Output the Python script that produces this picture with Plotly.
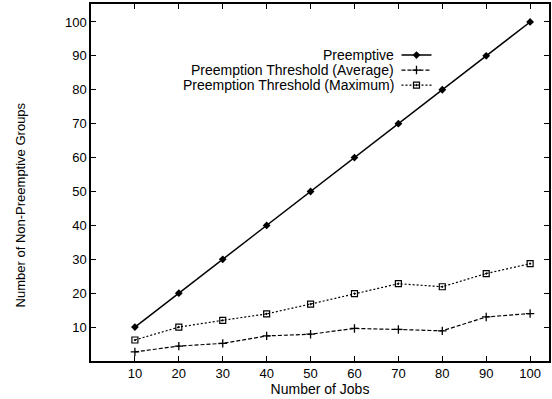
import plotly.graph_objects as go

jobs = [10, 20, 30, 40, 50, 60, 70, 80, 90, 100]
preemptive = [10, 20, 30, 40, 50, 60, 70, 80, 90, 100]
thr_avg = [2.7, 4.4, 5.2, 7.4, 7.9, 9.6, 9.3, 8.9, 13.0, 14.0]
thr_max = [6.2, 10.0, 12.0, 13.9, 16.8, 19.9, 22.8, 21.9, 25.8, 28.7]
series_names = ["Preemptive", "Preemption Threshold (Average)", "Preemption Threshold (Maximum)"]
x_ticks = [10, 20, 30, 40, 50, 60, 70, 80, 90, 100]
y_ticks = [10, 20, 30, 40, 50, 60, 70, 80, 90, 100]
x_title = "Number of Jobs"
y_title = "Number of Non-Preemptive Groups"

FONT = "Liberation Sans, Arial, sans-serif"

fig = go.Figure()
fig.add_trace(go.Scatter(x=jobs, y=preemptive, mode="lines+markers", name=" ", legend="legend",
                         line=dict(color="black", width=1.5),
                         marker=dict(symbol="diamond", size=6, color="black")))
fig.add_trace(go.Scatter(x=jobs, y=thr_avg, mode="lines+markers", name=" ", legend="legend2",
                         line=dict(color="black", width=1.2, dash="4px,2px"),
                         marker=dict(symbol="cross-thin", size=6, line=dict(color="black", width=1.3))))
fig.add_trace(go.Scatter(x=jobs, y=thr_max, mode="lines+markers", name=" ", legend="legend3",
                         line=dict(color="black", width=1.2, dash="2px,2px"),
                         marker=dict(symbol="square-open-dot", size=6, color="black",
                                     line=dict(color="black", width=1.2))))

# legend text, right aligned like the original (samples drawn by the legends to the right)
row_y = [0.857, 0.815, 0.773]
for name, yy in zip(series_names, row_y):
    fig.add_annotation(x=0.665, y=yy, xref="paper", yref="paper", text=name,
                       showarrow=False, xanchor="right", yanchor="middle",
                       font=dict(family=FONT, size=14, color="black"))

# y-axis title (placed slightly below plot centre, as in the original)
fig.add_annotation(x=-0.152, y=0.437, xref="paper", yref="paper", text=y_title,
                   textangle=-90, showarrow=False, xanchor="center", yanchor="middle",
                   font=dict(family=FONT, size=13, color="black"))

axis_common = dict(showline=True, linecolor="black", linewidth=1.5, mirror="ticks",
                   ticks="inside", ticklen=5, tickwidth=1.2, tickcolor="black",
                   showgrid=False, zeroline=False,
                   tickfont=dict(family=FONT, size=13, color="black"))

leg_common = dict(x=0.667, xanchor="left", yanchor="middle", bgcolor="rgba(0,0,0,0)",
                  font=dict(family=FONT, size=9), itemwidth=30)

fig.update_layout(
    width=552, height=399,
    margin=dict(l=91, r=1, t=4, b=38),
    plot_bgcolor="white", paper_bgcolor="white",
    xaxis=dict(range=[0, 104.3], tickvals=x_ticks,
               title=dict(text=x_title, standoff=0,
                          font=dict(family=FONT, size=14, color="black")),
               **axis_common),
    yaxis=dict(range=[0, 105.3], tickvals=y_ticks, **axis_common),
    showlegend=True,
    legend=dict(y=row_y[0], **leg_common),
    legend2=dict(y=row_y[1], **leg_common),
    legend3=dict(y=row_y[2], **leg_common),
)

fig.write_html("out.html", config={"displayModeBar": False},
               post_script="document.body.style.margin='0';")
